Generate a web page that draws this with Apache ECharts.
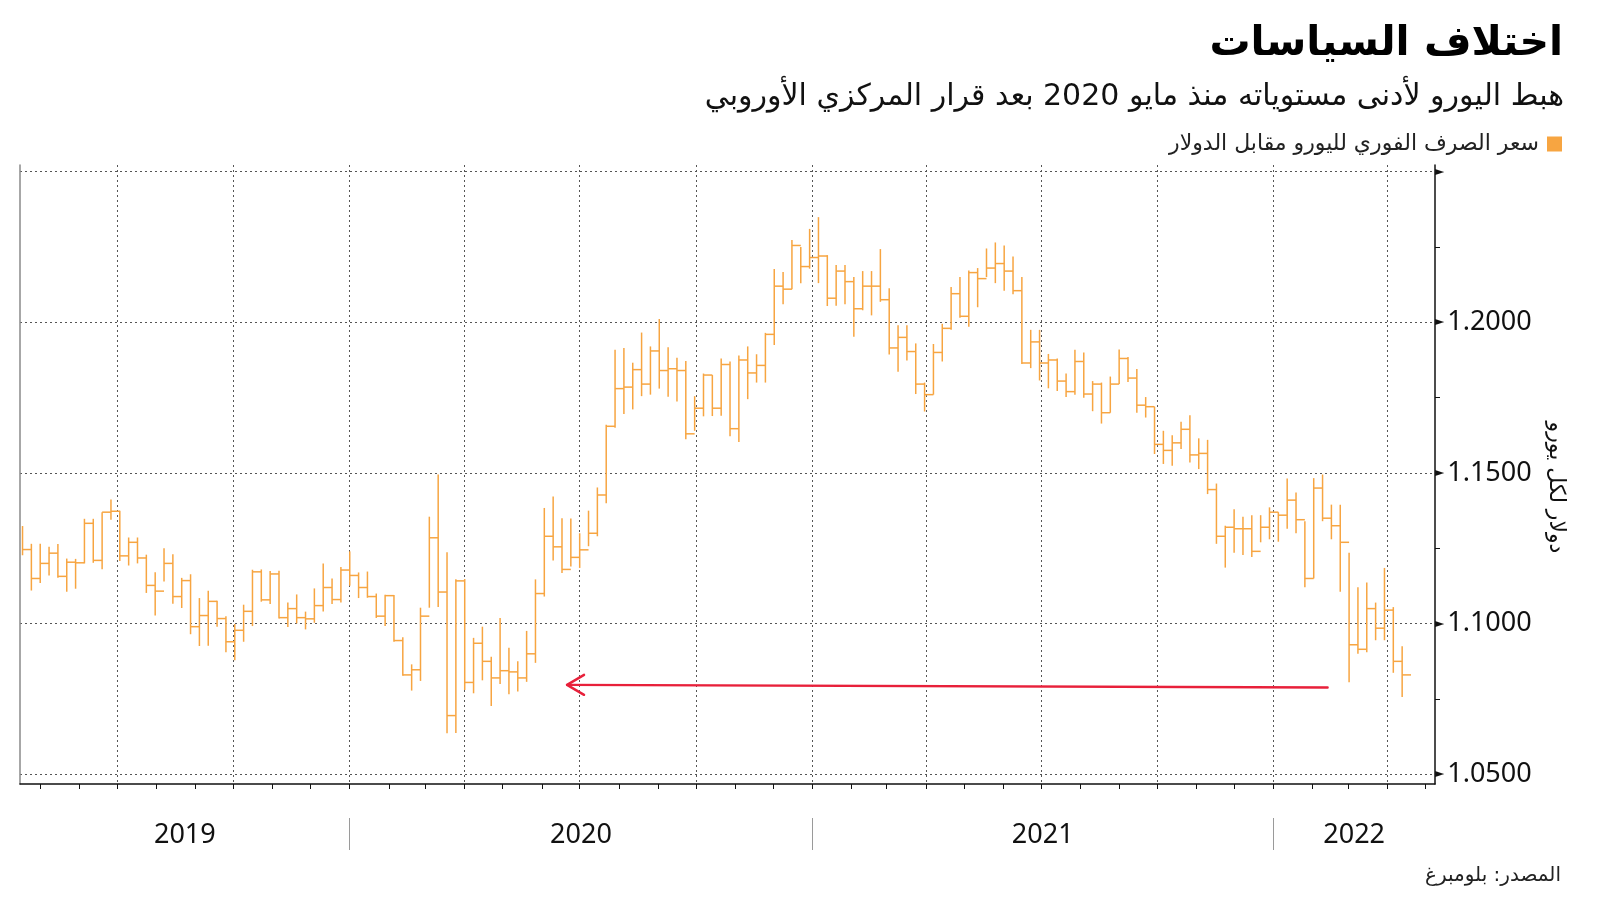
<!DOCTYPE html>
<html>
<head>
<meta charset="utf-8">
<script src="https://cdn.jsdelivr.net/npm/echarts@6/dist/echarts.min.js"></script>
<style>
  html, body { margin: 0; padding: 0; background: #ffffff; }
  #chart { width: 1600px; height: 901px; }
</style>
</head>
<body>
<div id="chart"></div>
<script>
// ---------- texts ----------
const titleText = 'اختلاف السياسات';
const subtitleText = 'هبط اليورو لأدنى مستوياته منذ مايو 2020 بعد قرار المركزي الأوروبي';
const seriesName = 'سعر الصرف الفوري لليورو مقابل الدولار';
const yAxisName = 'دولار لكل يورو';
const sourceText = 'المصدر: بلومبرغ';

// ---------- axes ----------
const xMin = '2019-04-15';
const xMax = '2022-05-09';
const yMin = 1.0468;
const yMax = 1.2522;
const yMajorTicks = [1.05, 1.10, 1.15, 1.20, 1.25];
const yLabelledTicks = [1.05, 1.10, 1.15, 1.20];
const yMinorTicks = [1.075, 1.125, 1.175, 1.225];
const yearLabels = [2019, 2020, 2021, 2022];

// ---------- weekly data (week starting Monday, first week 2019-04-15) ----------
const firstWeek = '2019-04-15';
const weekHigh = [
  // 2019
  1.1324,1.1265,1.1265,1.1255,1.1264,1.1216,1.1215,1.1348,1.1348,1.1370,1.1412,1.1375,1.1286,1.1286,1.1229,1.1171,1.1250,1.1230,1.1152,1.1164,1.1085,1.1109,1.1076,1.1025,1.0999,1.1063,1.1179,1.1180,1.1175,1.1176,1.1070,1.1097,1.1040,1.1117,1.1200,1.1150,1.1188,1.1240,
  // 2020
  1.1170,1.1173,1.1100,1.1096,1.1095,1.0955,1.0865,1.1053,1.1355,1.1495,1.1237,1.1147,1.1148,1.0953,1.0990,1.0890,1.1019,1.0920,1.0875,1.0976,1.1147,1.1384,1.1422,1.1350,1.1349,1.1300,1.1375,1.1452,1.1660,1.1909,1.1915,1.1866,1.1966,1.1920,1.2011,1.1917,1.1882,1.1872,1.1755,1.1830,1.1825,1.1880,1.1870,1.1890,1.1920,1.1894,1.1965,1.2177,1.2167,1.2273,1.2250,1.2310,
  // 2021
  1.2349,1.2223,1.2190,1.2190,1.2150,1.2170,1.2170,1.2243,1.2113,1.1990,1.1990,1.1930,1.1800,1.1928,1.1995,1.2117,1.2150,1.2172,1.2180,1.2245,1.2265,1.2255,1.2218,1.2150,1.1975,1.1975,1.1895,1.1880,1.1830,1.1909,1.1900,1.1805,1.1800,1.1820,1.1910,1.1885,1.1845,1.1752,1.1720,1.1640,1.1625,1.1670,1.1692,1.1615,1.1610,1.1465,1.1325,1.1380,1.1355,1.1360,1.1360,1.1386,
  // 2022
  1.1370,1.1482,1.1435,1.1340,1.1483,1.1495,1.1395,1.1395,1.1235,1.1121,1.1137,1.1070,1.1185,1.1055,1.0925
];
const weekLow = [
  // 2019
  1.1227,1.1110,1.1135,1.1160,1.1152,1.1106,1.1116,1.1200,1.1202,1.1181,1.1345,1.1208,1.1193,1.1200,1.1102,1.1027,1.1140,1.1066,1.1052,1.0965,1.0926,1.0927,1.0990,1.0905,1.0879,1.0940,1.0992,1.1073,1.1065,1.1017,1.0989,1.1001,1.0981,1.1003,1.1040,1.1065,1.1070,1.1126,
  // 2020
  1.1085,1.1086,1.1019,1.0992,1.0940,1.0827,1.0778,1.0810,1.1053,1.1055,1.0636,1.0637,1.0780,1.0769,1.0812,1.0727,1.0800,1.0766,1.0775,1.0807,1.0870,1.1090,1.1210,1.1168,1.1190,1.1185,1.1257,1.1290,1.1400,1.1650,1.1696,1.1711,1.1755,1.1760,1.1780,1.1753,1.1737,1.1612,1.1640,1.1688,1.1689,1.1690,1.1622,1.1603,1.1745,1.1800,1.1800,1.1925,1.2060,1.2110,1.2130,1.2178,
  // 2021
  1.2130,1.2054,1.2055,1.2060,1.1952,1.2040,1.2023,1.2068,1.1893,1.1836,1.1873,1.1762,1.1704,1.1760,1.1870,1.1975,1.2015,1.1985,1.2050,1.2150,1.2130,1.2105,1.2093,1.1862,1.1848,1.1807,1.1781,1.1772,1.1752,1.1760,1.1750,1.1705,1.1664,1.1700,1.1795,1.1802,1.1700,1.1684,1.1563,1.1530,1.1524,1.1580,1.1535,1.1513,1.1430,1.1265,1.1186,1.1235,1.1228,1.1221,1.1270,1.1280,
  // 2022
  1.1272,1.1315,1.1300,1.1121,1.1150,1.1340,1.1280,1.1106,1.0806,1.0900,1.0905,1.0945,1.0945,1.0837,1.0757
];
const weekClose = [
  // 2019
  1.1246,1.1150,1.1200,1.1234,1.1157,1.1204,1.1202,1.1333,1.1210,1.1370,1.1373,1.1225,1.1270,1.1218,1.1127,1.1108,1.1200,1.1090,1.1143,1.0990,1.1027,1.1074,1.1017,1.0940,1.0978,1.1041,1.1172,1.1079,1.1165,1.1020,1.1050,1.1020,1.1016,1.1060,1.1120,1.1080,1.1178,1.1160,
  // 2020
  1.1120,1.1090,1.1025,1.1093,1.0944,1.0830,1.0847,1.1025,1.1285,1.1105,1.0695,1.1142,1.0805,1.0935,1.0875,1.0820,1.0844,1.0840,1.0820,1.0900,1.1100,1.1290,1.1255,1.1180,1.1220,1.1245,1.1300,1.1427,1.1655,1.1780,1.1785,1.1843,1.1795,1.1905,1.1840,1.1846,1.1840,1.1630,1.1715,1.1825,1.1715,1.1860,1.1647,1.1875,1.1832,1.1857,1.1960,1.2120,1.2110,1.2255,1.2185,1.2215,
  // 2021
  1.2220,1.2080,1.2170,1.2135,1.2045,1.2120,1.2120,1.2075,1.1915,1.1950,1.1903,1.1795,1.1760,1.1900,1.1980,1.2095,1.2020,1.2165,1.2145,1.2180,1.2195,1.2170,1.2105,1.1865,1.1935,1.1865,1.1875,1.1805,1.1770,1.1870,1.1762,1.1795,1.1700,1.1795,1.1880,1.1815,1.1725,1.1720,1.1595,1.1575,1.1600,1.1645,1.1560,1.1565,1.1445,1.1290,1.1320,1.1315,1.1315,1.1240,1.1320,1.1370,
  // 2022
  1.1360,1.1410,1.1345,1.1150,1.1450,1.1350,1.1325,1.1270,1.0930,1.0915,1.1050,1.0985,1.1045,1.0875,1.0830
];

// ---------- annotation arrow (from right end to arrow tip) ----------
const arrowFrom = ['2022-02-13', 1.0788];
const arrowTo = ['2020-06-21', 1.0797];

// ---------- build ----------
const DAY = 86400000;
function parseD(s) { const p = s.split('-').map(Number); return new Date(p[0], p[1] - 1, p[2]).getTime(); }
const tMin = parseD(xMin), tMax = parseD(xMax);
const week0 = parseD(firstWeek);
const ohlcData = weekHigh.map((h, i) => [week0 + (i * 7 + 2) * DAY, weekLow[i], h, weekClose[i]]);

const monthTicks = [];
for (let y = 2019; y <= 2022; y++) for (let m = 0; m < 12; m++) {
  const t = new Date(y, m, 1).getTime();
  if (t > tMin && t < tMax) monthTicks.push(t);
}
const quarterTicks = monthTicks.filter(t => new Date(t).getMonth() % 3 === 0);
const yearTicks = monthTicks.filter(t => new Date(t).getMonth() === 0);
const yearMids = yearLabels.map(y => {
  const s = Math.max(new Date(y, 0, 1).getTime(), tMin);
  const e = Math.min(new Date(y + 1, 0, 1).getTime(), tMax);
  return (s + e) / 2;
});

const ORANGE = '#F7A541';
const RED = '#E8203A';
const INK = '#111111';
const GRID = '#555555';

const chart = echarts.init(document.getElementById('chart'), null, { renderer: 'canvas' });

const xBase = { type: 'value', min: tMin, max: tMax, position: 'bottom', scale: true };

const option = {
  backgroundColor: '#ffffff',
  animation: false,
  title: [
    { text: titleText, right: 32, top: 19,
      textStyle: { fontFamily: 'DejaVu Sans', fontWeight: 'bold', fontSize: 41, color: '#000' } },
    { text: subtitleText, right: 31, top: 77,
      textStyle: { fontFamily: 'DejaVu Sans', fontWeight: 'normal', fontSize: 30, color: INK } },
    { text: sourceText, right: 34, top: 861,
      textStyle: { fontFamily: 'DejaVu Sans', fontWeight: 'normal', fontSize: 20, color: '#222' } }
  ],
  legend: {
    right: 33, top: 128, align: 'right', itemWidth: 15, itemHeight: 15,
    data: [{ name: seriesName, icon: 'rect', itemStyle: { color: ORANGE } }],
    textStyle: { fontFamily: 'DejaVu Sans', fontSize: 22, color: '#222', padding: [0, 3, 0, 0] },
    selectedMode: false
  },
  grid: { left: 20, right: 165, top: 165, bottom: 117, containLabel: false },
  xAxis: [
    Object.assign({}, xBase, {
      axisLine: { show: true, lineStyle: { color: INK, width: 1.5 } },
      axisTick: { show: true, customValues: monthTicks, length: 5, lineStyle: { color: INK, width: 1 } },
      axisLabel: { show: false }, splitLine: { show: false } }),
    Object.assign({}, xBase, {
      axisLine: { show: false },
      axisTick: { show: false, customValues: quarterTicks },
      splitLine: { show: true, lineStyle: { color: GRID, width: 1, type: [2, 3] } },
      axisLabel: { show: true, customValues: yearMids, margin: 38,
        formatter: v => String(new Date(v).getFullYear()),
        fontFamily: 'Noto Sans', fontSize: 27, color: INK } }),
    Object.assign({}, xBase, { offset: 34,
      axisLine: { show: false },
      axisTick: { show: true, customValues: yearTicks, length: 32, lineStyle: { color: '#9a9a9a', width: 1 } },
      axisLabel: { show: false }, splitLine: { show: false } })
  ],
  yAxis: [
    { type: 'value', min: yMin, max: yMax, position: 'right',
      axisLine: { show: true, lineStyle: { color: INK, width: 1.5 } },
      axisTick: { show: false, customValues: yMajorTicks },
      splitLine: { show: true, lineStyle: { color: GRID, width: 1, type: [2, 3] } },
      axisLabel: { show: true, customValues: yMajorTicks, margin: 0,
        formatter: v => yLabelledTicks.some(t => Math.abs(t - v) < 1e-6)
          ? '{t|►}{n|' + v.toFixed(4) + '}' : '{t|►}',
        rich: {
          t: { fontFamily: 'DejaVu Sans', fontSize: 12, color: INK, padding: [0, 3, 0, 0], verticalAlign: 'middle' },
          n: { fontFamily: 'Noto Sans', fontSize: 27, color: INK, verticalAlign: 'middle' }
        } },
      name: yAxisName, nameLocation: 'middle', nameRotate: -90, nameGap: 110,
      nameTextStyle: { fontFamily: 'DejaVu Sans', fontSize: 22, color: INK, padding: [0, 0, 0, 26] } },
    { type: 'value', min: yMin, max: yMax, position: 'right',
      axisLine: { show: false },
      axisTick: { show: true, customValues: yMinorTicks, length: 5, lineStyle: { color: INK, width: 1 } },
      axisLabel: { show: false }, splitLine: { show: false } },
    { type: 'value', min: yMin, max: yMax, position: 'left',
      axisLine: { show: true, lineStyle: { color: '#8a8a8a', width: 1.5 } },
      axisTick: { show: false }, axisLabel: { show: false }, splitLine: { show: false } }
  ],
  series: [
    {
      name: seriesName, type: 'custom', xAxisIndex: 0, yAxisIndex: 0,
      itemStyle: { color: ORANGE },
      encode: { x: 0, y: [1, 2, 3] },
      data: ohlcData,
      silent: true,
      renderItem: function (params, api) {
        const t = api.value(0);
        const lo = api.coord([t, api.value(1)]);
        const hi = api.coord([t, api.value(2)]);
        const cl = api.coord([t, api.value(3)]);
        const w = api.size([7 * DAY, 0])[0];
        const st = { stroke: ORANGE, lineWidth: 1.5 };
        return { type: 'group', children: [
          { type: 'line', shape: { x1: lo[0], y1: lo[1], x2: hi[0], y2: hi[1] }, style: st },
          { type: 'line', shape: { x1: cl[0], y1: cl[1], x2: cl[0] + w, y2: cl[1] }, style: st }
        ] };
      }
    },
    {
      name: 'arrow', type: 'custom', xAxisIndex: 0, yAxisIndex: 0,
      encode: { x: [0, 2], y: [1, 3] },
      data: [[parseD(arrowFrom[0]), arrowFrom[1], parseD(arrowTo[0]), arrowTo[1]]],
      silent: true, clip: false,
      renderItem: function (params, api) {
        const a = api.coord([api.value(0), api.value(1)]);
        const b = api.coord([api.value(2), api.value(3)]);
        const st = { stroke: RED, lineWidth: 2.4, fill: null, lineCap: 'round', lineJoin: 'round' };
        return { type: 'group', children: [
          { type: 'line', shape: { x1: a[0], y1: a[1], x2: b[0], y2: b[1] }, style: st },
          { type: 'polyline', shape: { points: [[b[0] + 17, b[1] - 10], [b[0], b[1]], [b[0] + 17, b[1] + 10]] }, style: st }
        ] };
      }
    }
  ]
};
chart.setOption(option);
</script>
</body>
</html>
